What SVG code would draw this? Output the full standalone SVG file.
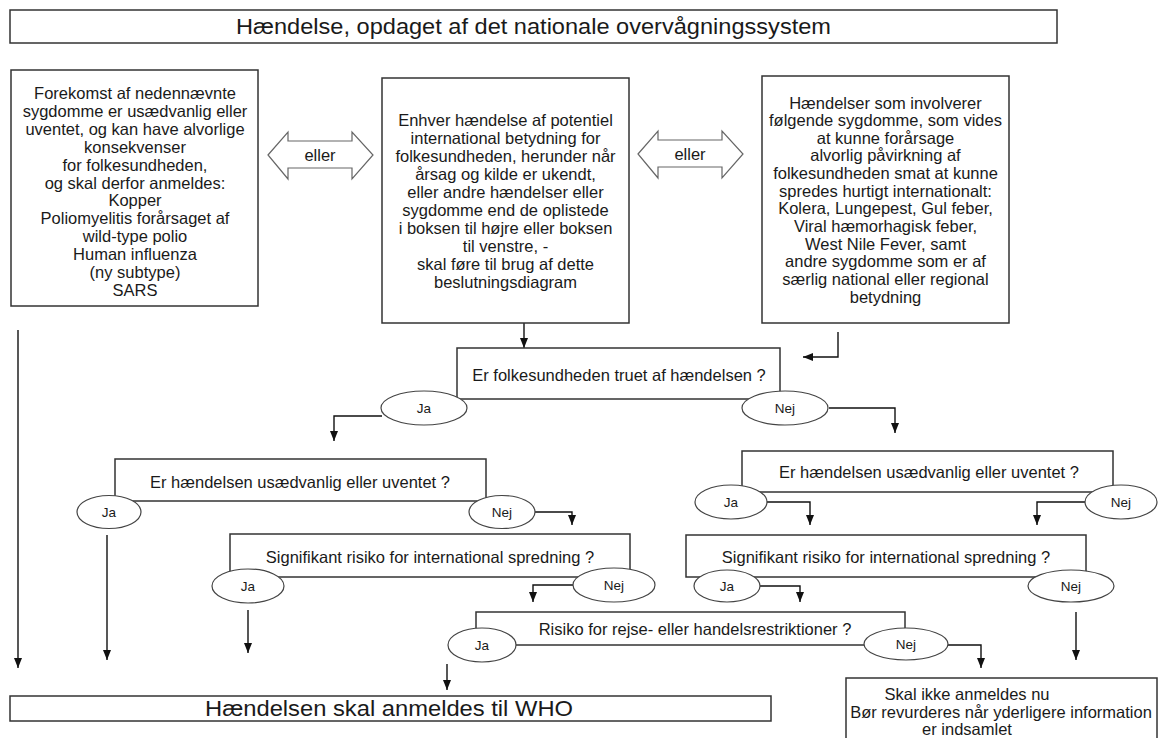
<svg xmlns="http://www.w3.org/2000/svg" width="1158" height="738" viewBox="0 0 1158 738">
<defs>
<marker id="ah" viewBox="0 0 10 8" refX="10" refY="4" markerWidth="10" markerHeight="8" markerUnits="userSpaceOnUse" orient="auto"><path d="M0,0 L10,4 L0,8 z" fill="#111"/></marker>
<style>
.box{fill:#fff;stroke:#333;stroke-width:1.5}
.ell{fill:#fff;stroke:#444;stroke-width:1.2}
.dbl{fill:#fff;stroke:#666;stroke-width:1.2}
.t{font-family:"Liberation Sans",Arial,sans-serif;font-size:16.5px;fill:#1a1a1a;text-anchor:middle}
.big{font-size:22px}
.s{font-size:13.5px}
.con{fill:none;stroke:#111;stroke-width:1.4;marker-end:url(#ah)}
</style>
</defs>
<rect width="1158" height="738" fill="#fff"/>
<g id="connectors">
<path class="con" d="M18,330 V668"/>
<path class="con" d="M107,535 V660"/>
<path class="con" d="M248,610 V653"/>
<path class="con" d="M447,664 V690"/>
<path class="con" d="M1076,612 V660"/>
<path class="con" d="M524,323 V348"/>
<path class="con" d="M838,332 V357 H803"/>
<path class="con" d="M382,416 H334 V441"/>
<path class="con" d="M829,408 H895 V433"/>
<path class="con" d="M535,512 H572 V525"/>
<path class="con" d="M767,502 H810 V525"/>
<path class="con" d="M1085,502 H1037 V525"/>
<path class="con" d="M573,585 H533 V602"/>
<path class="con" d="M760,586 H800 V602"/>
<path class="con" d="M948,645 H981 V668"/>
</g>
<g id="title">
<rect class="box" x="10" y="10" width="1047" height="33"/>
<text class="t big" x="533.5" y="34" textLength="595" lengthAdjust="spacingAndGlyphs">Hændelse, opdaget af det nationale overvågningssystem</text>
</g>
<g id="box-left">
<rect class="box" x="11" y="70" width="247" height="236"/>
<text class="t"><tspan x="135" y="99">Forekomst af nedennævnte</tspan><tspan x="135" dy="17.9">sygdomme er usædvanlig eller</tspan><tspan x="135" dy="17.9">uventet, og kan have alvorlige</tspan><tspan x="135" dy="17.9">konsekvenser</tspan><tspan x="135" dy="17.9">for folkesundheden,</tspan><tspan x="135" dy="17.9">og skal derfor anmeldes:</tspan><tspan x="135" dy="17.9">Kopper</tspan><tspan x="135" dy="17.9">Poliomyelitis forårsaget af</tspan><tspan x="135" dy="17.9">wild-type polio</tspan><tspan x="135" dy="17.9">Human influenza</tspan><tspan x="135" dy="17.9">(ny subtype)</tspan><tspan x="135" dy="17.9">SARS</tspan></text>
</g>
<g id="eller-left">
<polygon class="dbl" points="268,155 288,132 288,141 352,141 352,132 373,155 352,179 352,168 288,168 288,179"/>
<text class="t" x="320" y="161">eller</text>
</g>
<g id="box-mid">
<rect class="box" x="382" y="78" width="247" height="245"/>
<text class="t"><tspan x="505.5" y="125.5">Enhver hændelse af potentiel</tspan><tspan x="505.5" dy="18">international betydning for</tspan><tspan x="505.5" dy="18">folkesundheden, herunder når</tspan><tspan x="505.5" dy="18">årsag og kilde er ukendt,</tspan><tspan x="505.5" dy="18">eller andre hændelser eller</tspan><tspan x="505.5" dy="18">sygdomme end de oplistede</tspan><tspan x="505.5" dy="18">i boksen til højre eller boksen</tspan><tspan x="505.5" dy="18">til venstre,  -</tspan><tspan x="505.5" dy="18">skal føre  til brug af dette</tspan><tspan x="505.5" dy="18">beslutningsdiagram</tspan></text>
</g>
<g id="eller-right">
<polygon class="dbl" points="638,154 658,131 658,140 722,140 722,131 743,154 722,178 722,167 658,167 658,178"/>
<text class="t" x="690" y="160">eller</text>
</g>
<g id="box-right">
<rect class="box" x="762" y="76" width="247" height="247"/>
<text class="t"><tspan x="885.5" y="108.5">Hændelser som involverer</tspan><tspan x="885.5" dy="17.65">følgende sygdomme, som vides</tspan><tspan x="885.5" dy="17.65">at kunne forårsage</tspan><tspan x="885.5" dy="17.65">alvorlig påvirkning af</tspan><tspan x="885.5" dy="17.65">folkesundheden smat at kunne</tspan><tspan x="885.5" dy="17.65">spredes hurtigt internationalt:</tspan><tspan x="885.5" dy="17.65">Kolera, Lungepest, Gul feber,</tspan><tspan x="885.5" dy="17.65">Viral hæmorhagisk feber,</tspan><tspan x="885.5" dy="17.65">West Nile Fever, samt</tspan><tspan x="885.5" dy="17.65">andre sygdomme som er af</tspan><tspan x="885.5" dy="17.65">særlig national eller regional</tspan><tspan x="885.5" dy="17.65">betydning</tspan></text>
</g>
<g id="q1">
<rect class="box" x="457" y="348" width="323" height="51"/>
<text class="t" x="619" y="380.5">Er folkesundheden truet af hændelsen ?</text>
<ellipse class="ell" cx="424" cy="408" rx="43" ry="17"/>
<text class="t s" x="424" y="413">Ja</text>
<ellipse class="ell" cx="785" cy="408" rx="43" ry="17"/>
<text class="t s" x="785" y="413">Nej</text>
</g>
<g id="q2-left">
<rect class="box" x="115" y="459" width="371" height="42"/>
<text class="t" x="300" y="487.5">Er hændelsen usædvanlig eller uventet ?</text>
<ellipse class="ell" cx="109" cy="512" rx="32" ry="16.5"/>
<text class="t s" x="109" y="517">Ja</text>
<ellipse class="ell" cx="502" cy="512" rx="33" ry="16.5"/>
<text class="t s" x="502" y="517">Nej</text>
</g>
<g id="q2-right">
<rect class="box" x="742" y="451" width="371" height="41"/>
<text class="t" x="929" y="477.5">Er hændelsen usædvanlig eller uventet ?</text>
<ellipse class="ell" cx="731" cy="502" rx="36" ry="17"/>
<text class="t s" x="731" y="507">Ja</text>
<ellipse class="ell" cx="1121" cy="502" rx="36" ry="17"/>
<text class="t s" x="1121" y="507">Nej</text>
</g>
<g id="q3-left">
<rect class="box" x="230" y="534" width="400" height="43"/>
<text class="t" x="430" y="562.5">Signifikant risiko for international spredning ?</text>
<ellipse class="ell" cx="248" cy="586" rx="36" ry="17"/>
<text class="t s" x="248" y="591">Ja</text>
<ellipse class="ell" cx="614" cy="585" rx="41" ry="17"/>
<text class="t s" x="614" y="590">Nej</text>
</g>
<g id="q3-right">
<rect class="box" x="686" y="535" width="400" height="42"/>
<text class="t" x="886" y="562.5">Signifikant risiko for international spredning ?</text>
<ellipse class="ell" cx="727" cy="586" rx="33" ry="16"/>
<text class="t s" x="727" y="591">Ja</text>
<ellipse class="ell" cx="1071" cy="586" rx="43" ry="16"/>
<text class="t s" x="1071" y="591">Nej</text>
</g>
<g id="q4">
<rect class="box" x="476" y="612" width="429" height="33"/>
<text class="t" x="695" y="635">Risiko for rejse- eller handelsrestriktioner ?</text>
<ellipse class="ell" cx="482" cy="645" rx="34" ry="17"/>
<text class="t s" x="482" y="650">Ja</text>
<ellipse class="ell" cx="906" cy="644" rx="42" ry="16"/>
<text class="t s" x="906" y="649">Nej</text>
</g>
<g id="result-who">
<rect class="box" x="10" y="696" width="761" height="25"/>
<text class="t big" x="389" y="716" textLength="368" lengthAdjust="spacingAndGlyphs">Hændelsen skal anmeldes til WHO</text>
</g>
<g id="result-not">
<rect class="box" x="846" y="678" width="311" height="70"/>
<text class="t"><tspan x="967" y="700">Skal ikke anmeldes nu</tspan><tspan x="1001" y="717.5">Bør revurderes når yderligere information</tspan><tspan x="967" y="735">er indsamlet</tspan></text>
</g>
</svg>
